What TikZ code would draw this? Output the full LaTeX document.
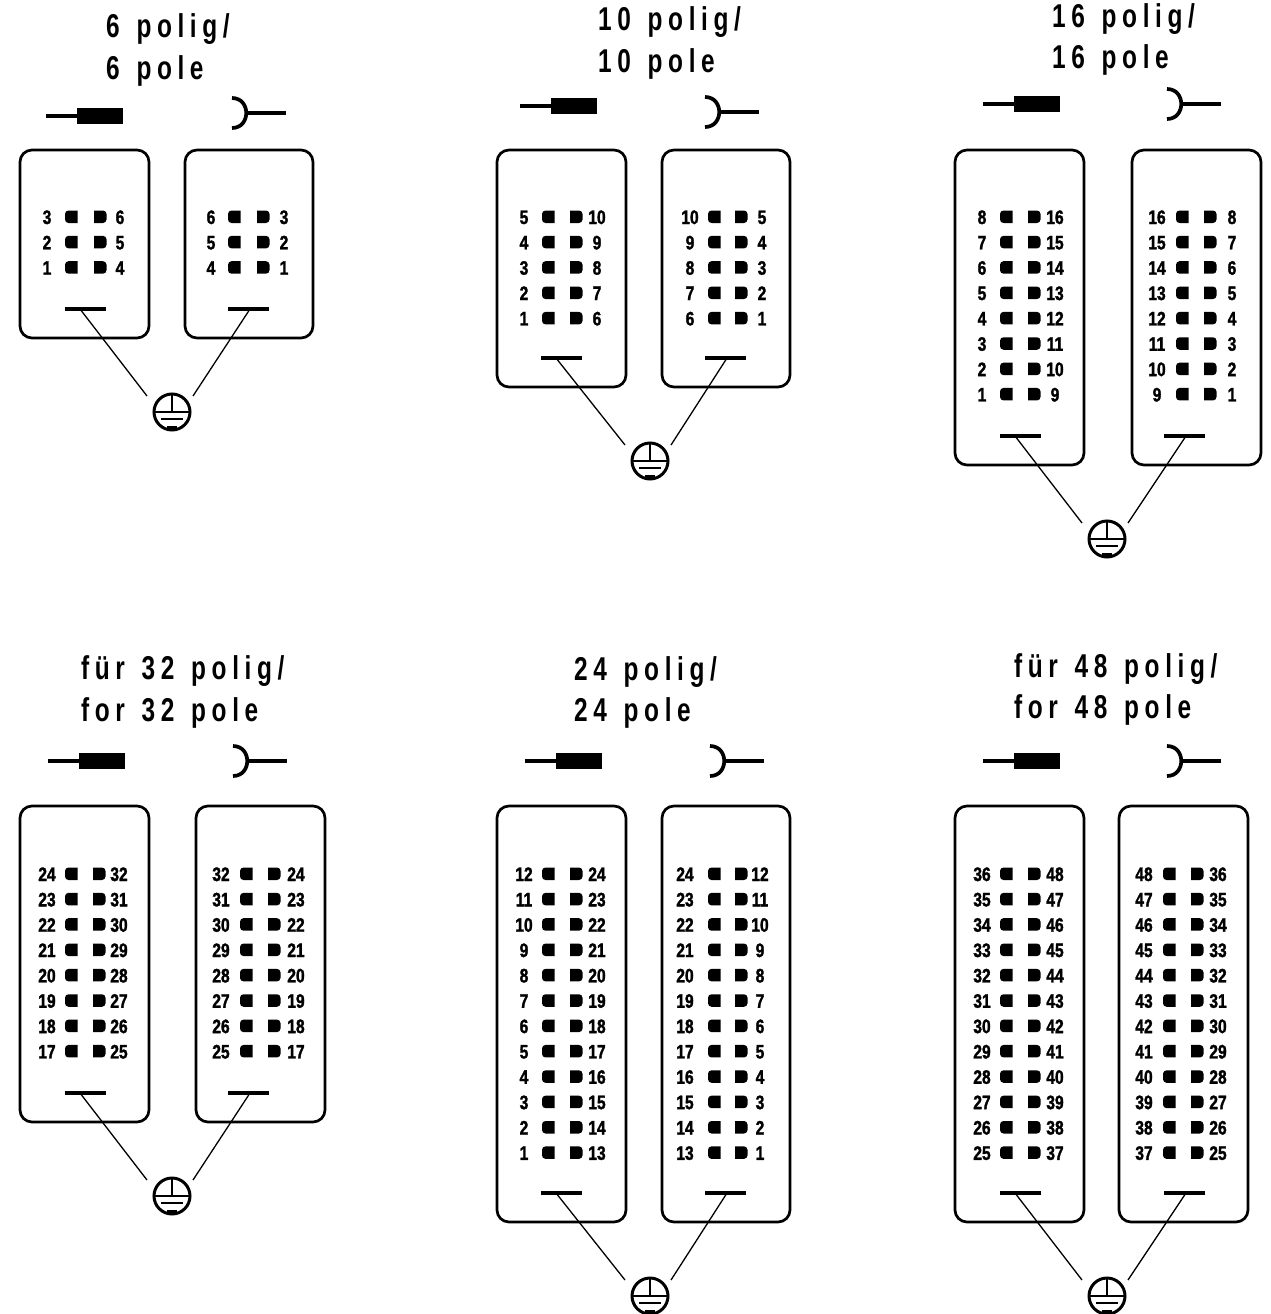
\documentclass[tikz,border=0pt]{standalone}
\usepackage{fontspec}
\usetikzlibrary{calc}
\newfontfamily\titlefont[FakeStretch=0.74,LetterSpace=17,WordSpace=1.35]{Liberation Sans Bold}
\newfontfamily\pinfont[FakeStretch=0.8,FakeBold=1.5]{Liberation Sans Bold}
\tikzset{
  housing/.style={draw,line width=2.7pt,rounded corners=12pt,outer sep=0pt},
  pinlabel/.style={font=\pinfont\fontsize{19.5}{20}\selectfont,inner sep=0pt,anchor=base},
  titletext/.style={font=\titlefont\fontsize{33}{34}\selectfont,inner sep=0pt,anchor=base west},
  bar/.style={line width=4pt},
  wire/.style={line width=1.3pt},
  earthring/.style={draw,circle,line width=3pt,minimum size=36pt,inner sep=0pt,outer sep=0pt},
  symline/.style={line width=3.7pt},
}
\pgfkeys{/hs/.cd,x1/.initial=0,x2/.initial=0,yt/.initial=0,yb/.initial=0,la/.initial=0,pa/.initial=0,pb/.initial=0,lb/.initial=0,n/.initial=0,sa/.initial=0,sb/.initial=0,r0/.initial=0}
\newcommand{\hv}[1]{\pgfkeysvalueof{/hs/#1}}
\newcommand{\drawhousing}[2]{%
 \pgfkeys{/hs/.cd,#2}%
 \node[housing,anchor=north west,minimum width=\hv{x2}pt-\hv{x1}pt,minimum height=\hv{yb}pt-\hv{yt}pt,inner sep=0pt] (#1) at (\hv{x1},\hv{yt}) {};
 \pgfmathtruncatemacro{\nn}{\hv{n}-1}
 \foreach \i in {0,...,\nn}{
   \pgfmathsetmacro{\yy}{\hv{r0}+25.35*\i}
   \pgfmathtruncatemacro{\va}{\hv{sa}-\i}
   \pgfmathtruncatemacro{\vb}{\hv{sb}-\i}
   \node[pinlabel] (#1-a\i) at (\hv{la},\yy+7) {\va};
   \node[pinlabel] (#1-b\i) at (\hv{lb},\yy+7) {\vb};
   \fill (\hv{pa}+12.5,\yy-6.5) [rounded corners=3.5pt] -- (\hv{pa},\yy-6.5) -- (\hv{pa},\yy+6) [sharp corners] -- (\hv{pa}+12.5,\yy+6) -- cycle;
   \fill (\hv{pb},\yy-6.5) [rounded corners=3.5pt] -- (\hv{pb}+12.5,\yy-6.5) -- (\hv{pb}+12.5,\yy+6) [sharp corners] -- (\hv{pb},\yy+6) -- cycle;
 }
}
\newcommand{\earth}[3]{%
 \node[earthring] (#1) at (#2,#3) {};
 \coordinate (#1-l) at (#2-25,#3-16);
 \coordinate (#1-r) at (#2+21,#3-16);
 \draw[line width=2.2pt] (#1.north) -- (#1.center);
 \draw[line width=2.2pt] (#1.west) -- (#1.east);
 \draw[line width=2.2pt] (#2-11,#3+7) -- (#2+11,#3+7);
 \fill (#2-5,#3+13.5) rectangle (#2+5,#3+18);
}
\newcommand{\earthbar}[5]{%
 \coordinate (#1-w) at (#2,#3);
 \coordinate (#1-e) at (#2+41,#3);
 \coordinate (#1-t) at (#4,#3);
 \draw[bar] (#1-w) -- (#1-e);
 \draw[wire] (#1-t) -- (#5);
}
\newcommand{\plugsym}[3]{%
 \draw[symline] (#1,#2) -- (#1+31,#2);
 \fill (#1+31,#2-8) rectangle (#3,#2+8);
}
\newcommand{\socketsym}[2]{%
 \draw[symline] (#1,#2-15) .. controls (#1+19,#2-15) and (#1+19,#2+15) .. (#1,#2+15);
 \draw[symline] (#1+14,#2) -- (#1+54,#2);
}
\begin{document}
\begin{tikzpicture}[x=1pt,y=-1pt]
\useasboundingbox (0,0) rectangle (1270,1314);
% ---- 6 pole
\node[titletext] (t1a) at (106,38) {6 polig/};
\node[titletext] (t1b) at (106,79.5) {6 pole};
\plugsym{46}{116}{123}
\socketsym{232}{113}
\drawhousing{a1}{x1=20,x2=149,yt=150,yb=338,la=47,pa=65,pb=94,lb=120,n=3,sa=3,sb=6,r0=217}
\drawhousing{a2}{x1=185,x2=313,yt=150,yb=338,la=211,pa=228,pb=257,lb=284,n=3,sa=6,sb=3,r0=217}
\earth{ga}{172}{412}
\earthbar{ba1}{65}{309}{80}{ga-l}
\earthbar{ba2}{228}{309}{250}{ga-r}
% ---- 10 pole
\node[titletext] (t2a) at (598,31) {10 polig/};
\node[titletext] (t2b) at (598,72) {10 pole};
\plugsym{520}{106}{597}
\socketsym{705}{112}
\drawhousing{b1}{x1=497,x2=626,yt=150,yb=387,la=524,pa=542,pb=570,lb=597,n=5,sa=5,sb=10,r0=217}
\drawhousing{b2}{x1=662,x2=790,yt=150,yb=387,la=690,pa=708,pb=735,lb=762,n=5,sa=10,sb=5,r0=217}
\earth{gb}{650}{461}
\earthbar{bb1}{541}{358}{556}{gb-l}
\earthbar{bb2}{705}{358}{727}{gb-r}
% ---- 16 pole
\node[titletext] (t3a) at (1052,28) {16 polig/};
\node[titletext] (t3b) at (1052,69) {16 pole};
\plugsym{983}{104}{1060}
\socketsym{1167}{104}
\drawhousing{c1}{x1=955,x2=1084,yt=150,yb=465,la=982,pa=1000,pb=1028,lb=1055,n=8,sa=8,sb=16,r0=217}
\drawhousing{c2}{x1=1132,x2=1261,yt=150,yb=465,la=1157,pa=1176,pb=1204,lb=1232,n=8,sa=16,sb=8,r0=217}
\earth{gc}{1107}{539}
\earthbar{bc1}{1000}{436}{1015}{gc-l}
\earthbar{bc2}{1164}{436}{1186}{gc-r}
% ---- 32 pole
\node[titletext] (t4a) at (81,679) {für 32 polig/};
\node[titletext] (t4b) at (81,721) {for 32 pole};
\plugsym{48}{761}{125}
\socketsym{233}{761}
\drawhousing{d1}{x1=20,x2=149,yt=806,yb=1122,la=47,pa=65,pb=93,lb=119,n=8,sa=24,sb=32,r0=874}
\drawhousing{d2}{x1=196,x2=325,yt=806,yb=1122,la=221,pa=240,pb=268,lb=296,n=8,sa=32,sb=24,r0=874}
\earth{gd}{172}{1196}
\earthbar{bd1}{65}{1093}{80}{gd-l}
\earthbar{bd2}{228}{1093}{250}{gd-r}
% ---- 24 pole
\node[titletext] (t5a) at (574,680) {24 polig/};
\node[titletext] (t5b) at (574,721) {24 pole};
\plugsym{525}{761}{602}
\socketsym{710}{761}
\drawhousing{e1}{x1=497,x2=626,yt=806,yb=1222,la=524,pa=542,pb=570,lb=597,n=12,sa=12,sb=24,r0=874}
\drawhousing{e2}{x1=662,x2=790,yt=806,yb=1222,la=685,pa=708,pb=735,lb=760,n=12,sa=24,sb=12,r0=874}
\earth{ge}{650}{1296}
\earthbar{be1}{541}{1193}{556}{ge-l}
\earthbar{be2}{705}{1193}{727}{ge-r}
% ---- 48 pole
\node[titletext] (t6a) at (1014,677) {für 48 polig/};
\node[titletext] (t6b) at (1014,718) {for 48 pole};
\plugsym{983}{761}{1060}
\socketsym{1167}{761}
\drawhousing{f1}{x1=955,x2=1084,yt=806,yb=1222,la=982,pa=1000,pb=1028,lb=1055,n=12,sa=36,sb=48,r0=874}
\drawhousing{f2}{x1=1119,x2=1248,yt=806,yb=1222,la=1144,pa=1163,pb=1191,lb=1218,n=12,sa=48,sb=36,r0=874}
\earth{gf}{1107}{1296}
\earthbar{bf1}{1000}{1193}{1015}{gf-l}
\earthbar{bf2}{1164}{1193}{1186}{gf-r}
\end{tikzpicture}
\end{document}
